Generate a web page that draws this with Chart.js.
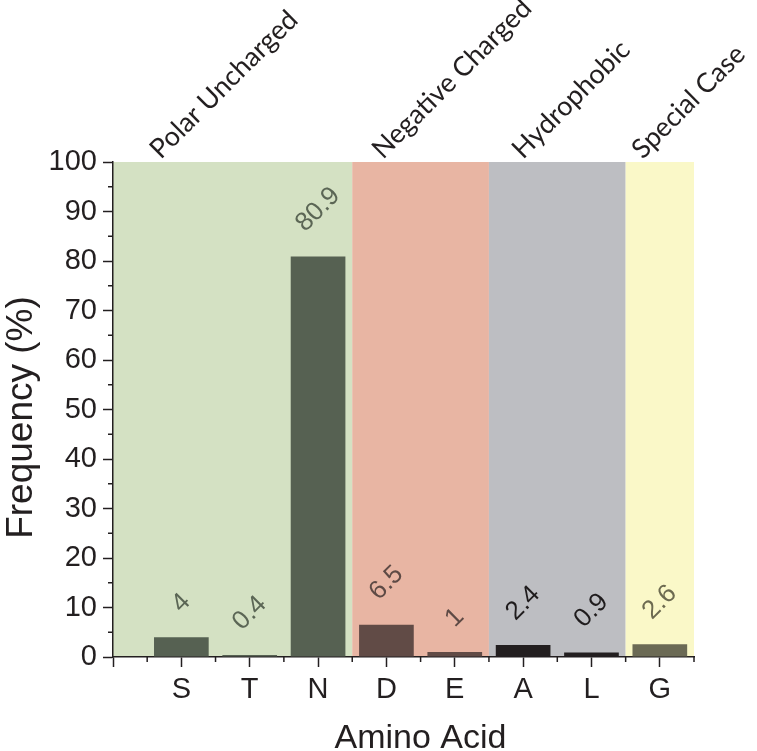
<!DOCTYPE html>
<html>
<head>
<meta charset="utf-8">
<script src="https://cdn.jsdelivr.net/npm/chart.js@4"></script>
<style>
  html, body { margin: 0; padding: 0; background: #fff; }
  #wrap { width: 757px; height: 751px; }
</style>
</head>
<body>
<div id="wrap"><canvas id="chart" width="757" height="751"></canvas></div>
<script>
// ---------- Data ----------
const categories = ['S', 'T', 'N', 'D', 'E', 'A', 'L', 'G'];
const frequencies = [4, 0.4, 80.9, 6.5, 1, 2.4, 0.9, 2.6];
const valueLabels = ['4', '0.4', '80.9', '6.5', '1', '2.4', '0.9', '2.6'];
const groupNames = ['Polar Uncharged', 'Negative Charged', 'Hydrophobic', 'Special Case'];
const groupOf = [0, 0, 0, 1, 1, 2, 2, 3];
const yTicks = [0, 10, 20, 30, 40, 50, 60, 70, 80, 90, 100];
const xTitle = 'Amino Acid';
const yTitle = 'Frequency (%)';

// ---------- Styles / layout ----------
const groupFill = ['#d4e1c3', '#e8b5a3', '#bdbec2', '#faf8c8'];
const groupBar = ['#566152', '#614b46', '#231f20', '#6b6a55'];
const groupText = ['#5b6655', '#5e4a45', '#1f1c1d', '#6c6a50'];
const groupLabelPos = [0.7, 3.95, 6.0, 7.75];   // axis units where rotated group names start
const INK = '#231f20';
const SANS = "'Liberation Sans', Arial, sans-serif";

const positions = categories.map((c, i) => i + 1);

const decorations = {
  id: 'decorations',
  beforeDraw(chart) {
    const { ctx, chartArea, scales: { x } } = chart;
    let start = x.min;
    groupNames.forEach((g, gi) => {
      const last = groupOf.lastIndexOf(gi);
      const end = gi === groupNames.length - 1 ? x.max : positions[last] + 0.5;
      const x0 = x.getPixelForValue(start);
      const x1 = x.getPixelForValue(end);
      ctx.fillStyle = groupFill[gi];
      ctx.fillRect(x0, chartArea.top, x1 - x0, chartArea.bottom - chartArea.top);
      start = end;
    });
  },
  afterDatasetsDraw(chart) {
    const { ctx } = chart;
    const meta = chart.getDatasetMeta(0);
    ctx.save();
    ctx.font = '26px ' + SANS;
    meta.data.forEach((bar, i) => {
      const text = valueLabels[i];
      const w = ctx.measureText(text).width;
      const d = 29 + (w / 2) * Math.SQRT1_2;
      ctx.save();
      ctx.translate(bar.x, bar.y - d);
      ctx.rotate(-Math.PI / 4);
      ctx.fillStyle = groupText[groupOf[i]];
      ctx.textAlign = 'center';
      ctx.textBaseline = 'middle';
      ctx.fillText(text, 0, 0);
      ctx.restore();
    });
    ctx.restore();
  },
  afterDraw(chart) {
    const { ctx, chartArea, scales: { x, y } } = chart;
    ctx.save();
    // minor ticks
    ctx.strokeStyle = INK;
    ctx.lineWidth = 1.5;
    ctx.beginPath();
    for (let v = x.min + 0.5; v <= x.max + 1e-9; v += 1) {
      const px = x.getPixelForValue(v);
      ctx.moveTo(px, chartArea.bottom);
      ctx.lineTo(px, chartArea.bottom + 5);
    }
    for (let v = 5; v < y.max; v += 10) {
      const py = y.getPixelForValue(v);
      ctx.moveTo(chartArea.left, py);
      ctx.lineTo(chartArea.left - 5, py);
    }
    ctx.stroke();

    // group names above the plot
    ctx.font = "27px Lato, 'Open Sans', sans-serif";
    ctx.fillStyle = INK;
    ctx.textAlign = 'left';
    ctx.textBaseline = 'alphabetic';
    groupNames.forEach((g, gi) => {
      ctx.save();
      ctx.translate(x.getPixelForValue(groupLabelPos[gi]), chartArea.top - 2);
      ctx.rotate(-Math.PI / 4);
      ctx.fillText(g, 0, 0);
      ctx.restore();
    });

    // axis titles
    ctx.font = '34px ' + SANS;
    ctx.textAlign = 'center';
    ctx.fillText(xTitle, (chartArea.left + chartArea.right) / 2 + 17, 748);

    ctx.font = '37px ' + SANS;
    ctx.textBaseline = 'middle';
    ctx.save();
    ctx.translate(22, (chartArea.top + chartArea.bottom) / 2 + 8);
    ctx.rotate(-Math.PI / 2);
    ctx.fillText(yTitle, 0, 0);
    ctx.restore();
    ctx.restore();
  }
};

new Chart(document.getElementById('chart'), {
  type: 'bar',
  data: {
    datasets: [{
      data: positions.map((p, i) => ({ x: p, y: frequencies[i] })),
      backgroundColor: groupOf.map(g => groupBar[g]),
      borderWidth: 0,
      barPercentage: 0.8,
      categoryPercentage: 1,
    }]
  },
  options: {
    responsive: false,
    animation: false,
    layout: { padding: { top: 162, right: 63, left: 0, bottom: 0 } },
    plugins: { legend: { display: false }, tooltip: { enabled: false } },
    scales: {
      x: {
        type: 'linear',
        offset: false,
        min: 0,
        max: 8.5,
        afterBuildTicks: s => { s.ticks = [0].concat(positions).map(v => ({ value: v })); },
        afterFit: s => { s.height = 94; },
        grid: { offset: false, drawOnChartArea: false, tickLength: 10, tickColor: INK, tickWidth: 1.5 },
        border: { color: INK, width: 1.5 },
        ticks: {
          padding: 6,
          color: INK,
          font: { family: SANS, size: 29 },
          callback: v => categories[v - 1] || '',
        },
      },
      y: {
        min: 0,
        max: 100,
        afterBuildTicks: s => { s.ticks = yTicks.map(v => ({ value: v })); },
        afterFit: s => { s.width = 113; },
        grid: { drawOnChartArea: false, tickLength: 10, tickColor: INK, tickWidth: 1.5 },
        border: { color: INK, width: 1.5 },
        ticks: {
          padding: 6,
          color: INK,
          font: { family: SANS, size: 29 },
        },
      },
    },
  },
  plugins: [decorations],
});
</script>
</body>
</html>
